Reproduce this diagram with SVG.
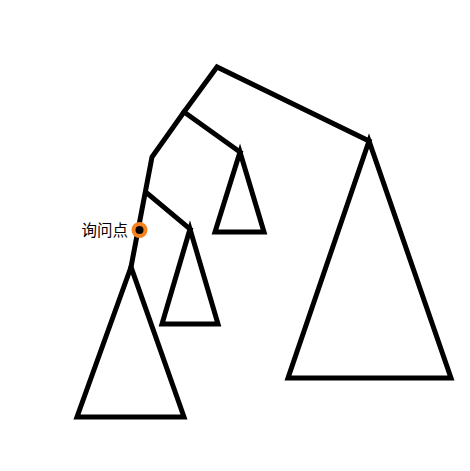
<svg xmlns="http://www.w3.org/2000/svg" width="470" height="471" viewBox="0 0 470 471">
<style>
.e{fill:none;stroke:#000;stroke-width:5;stroke-linejoin:miter;stroke-linecap:square}
.t{fill:none;stroke:#000;stroke-width:5;stroke-linejoin:miter}
.lbl{font-family:"Noto Sans CJK SC","Noto Sans",sans-serif;font-size:15.5px;fill:#000}
</style>
<rect width="470" height="471" fill="#fff"/>
<g id="connectors">
<polyline class="e" points="369,141 217,67 184,112 152,157 131,267"/>
<polyline class="e" points="184,112 240,152"/>
<polyline class="e" points="148,194 190,229"/>
</g>
<g id="subtree-a"><polygon class="t" points="240,152 215,232 264,232"/></g>
<g id="subtree-b"><polygon class="t" points="190,229 162,324 218,324"/></g>
<g id="subtree-c"><polygon class="t" points="131,267 77,417 184,417"/></g>
<g id="subtree-d"><polygon class="t" points="369,141 288,378 451,378"/></g>
<g id="query-point">
<circle cx="139.5" cy="230" r="6" fill="#000" stroke="#f58220" stroke-width="4"/>
<text class="lbl" x="128" y="235.5" text-anchor="end">询问点</text>
</g>
</svg>
